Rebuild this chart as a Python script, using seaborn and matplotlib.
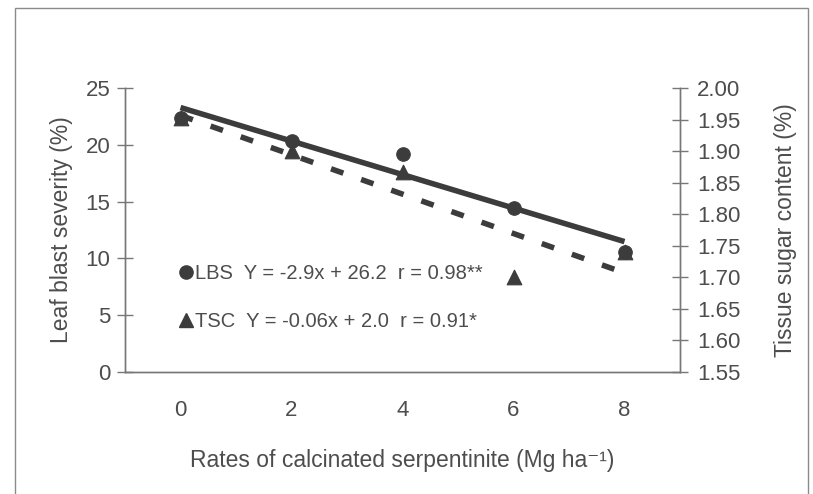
import numpy as np
import pandas as pd
import matplotlib
matplotlib.use("Agg")
import matplotlib.pyplot as plt
from matplotlib.lines import Line2D
from matplotlib.patches import Rectangle
import seaborn as sns

# ---- data ----
rates = ["0", "2", "4", "6", "8"]
lbs = [22.4, 20.3, 19.2, 14.4, 10.6]          # leaf blast severity (%)
tsc = [1.952, 1.900, 1.867, 1.700, 1.740]     # tissue sugar content (%)
lbs_label = "LBS  Y = -2.9x + 26.2  r = 0.98**"
tsc_label = "TSC  Y = -0.06x + 2.0  r = 0.91*"
left_ticks = [0, 5, 10, 15, 20, 25]
right_ticks = [1.55, 1.60, 1.65, 1.70, 1.75, 1.80, 1.85, 1.90, 1.95, 2.00]

sns.set_style("white")
plt.rcParams["font.family"] = ["Liberation Sans", "DejaVu Sans"]

TXT = "#4d4d4d"
MARK = "#3c3c3c"
SPINE = "#777777"

df = pd.DataFrame({"pos": np.arange(len(rates)), "lbs": lbs, "tsc": tsc})

fig = plt.figure(figsize=(8.13, 4.94), dpi=100)
ax = fig.add_axes([125/813, 1-372/494, (680-125)/813, (372-88)/494])
ax2 = ax.twinx()

# LBS: solid regression line + circles
sns.regplot(data=df, x="pos", y="lbs", ax=ax, ci=None, scatter=False,
            line_kws=dict(color=MARK, lw=4.0, solid_capstyle="butt"))
sns.scatterplot(data=df, x="pos", y="lbs", ax=ax, marker="o", s=95,
                color=MARK, edgecolor=MARK, zorder=4)

# TSC: dashed regression line + triangles
sns.regplot(data=df, x="pos", y="tsc", ax=ax2, ci=None, scatter=False,
            line_kws=dict(color=MARK, lw=4.0, ls=(0, (2.35, 3.4)), dash_capstyle="butt"))
sns.scatterplot(data=df, x="pos", y="tsc", ax=ax2, marker="^", s=110,
                color=MARK, edgecolor=MARK, zorder=3)

for a in (ax, ax2):
    a.set_xlim(-0.5, len(rates) - 0.5)
    a.set_xlabel("")
    a.set_ylabel("")
    for s in a.spines.values():
        s.set_color(SPINE)
        s.set_linewidth(1.0)
    a.spines["top"].set_visible(False)

ax.set_ylim(0, 25)
ax.set_yticks(left_ticks)
ax2.set_ylim(1.55, 2.00)
ax2.set_yticks(right_ticks)
ax2.set_yticklabels([f"{v:.2f}" for v in right_ticks])

# x axis: ticks at category boundaries, labels at centres
ax.set_xticks(np.arange(len(rates) + 1) - 0.5)
ax.set_xticklabels([])
ax.set_xticks(np.arange(len(rates)), minor=True)
ax.set_xticklabels(rates, minor=True)
ax.tick_params(axis="x", which="major", direction="in", length=8, color=SPINE, width=1)
ax.tick_params(axis="x", which="minor", length=0, pad=20, labelsize=16, labelcolor=TXT)
ax.tick_params(axis="y", direction="inout", length=11, color=SPINE, width=1,
               labelsize=16, labelcolor=TXT, pad=5)
ax2.tick_params(axis="y", direction="inout", length=11, color=SPINE, width=1,
                labelsize=16, labelcolor=TXT, pad=7)
ax2.tick_params(axis="x", which="both", length=0, labelbottom=False)

ax.set_ylabel("Leaf blast severity (%)", fontsize=16.5, color=TXT, labelpad=9)
ax2.set_ylabel("Tissue sugar content (%)", fontsize=16.5, color=TXT, labelpad=24)
ax.set_xlabel("Rates of calcinated serpentinite (Mg ha\u207b\u00b9)",
              fontsize=16.5, color=TXT, labelpad=20)

handles = [Line2D([], [], marker="o", ls="none", color=MARK, markersize=9.5),
           Line2D([], [], marker="^", ls="none", color=MARK, markersize=10.5)]
leg = ax.legend(handles, [lbs_label, tsc_label], loc="upper left",
                bbox_to_anchor=((172-125)/555, (372-256)/284), frameon=False,
                fontsize=14.5, labelspacing=1.45, handlelength=0.6,
                handletextpad=0.15, borderaxespad=0)
for t in leg.get_texts():
    t.set_color(TXT)

# outer frame
fig.patches.append(Rectangle((15/813, -0.2), (808-15)/813, 1.2 - 8/494,
                             transform=fig.transFigure, fill=False,
                             edgecolor="#8a8a8a", lw=1.0))

fig.savefig("out.png", dpi=100)
